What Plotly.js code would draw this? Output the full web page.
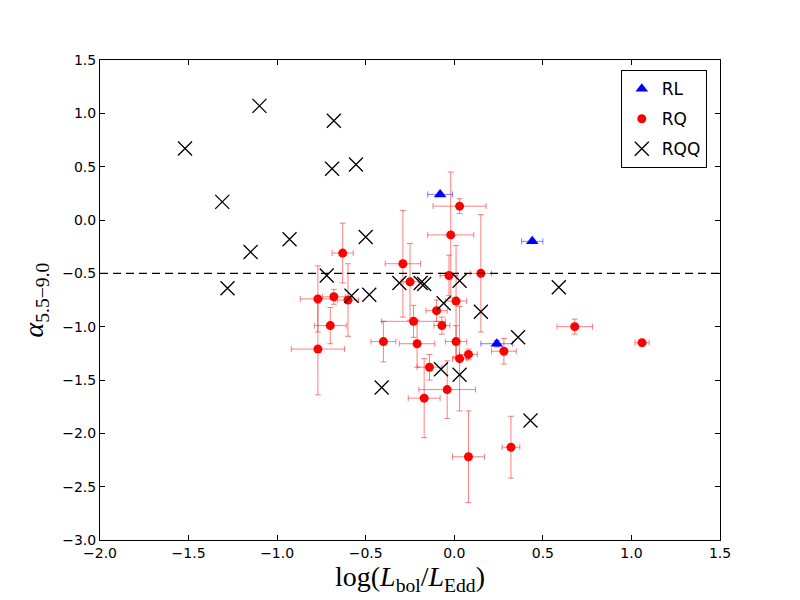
<!DOCTYPE html>
<html>
<head>
<meta charset="utf-8">
<script src="https://cdn.plot.ly/plotly-3.0.1.min.js"></script>
<style>
  body { margin: 0; background: #fff; }
  #myDiv { width: 800px; height: 600px; }
</style>
</head>
<body>
<div id="myDiv"></div>
<script>
// RL sources
var rlX = [-0.08, 0.44, 0.24];
var rlY = [0.24, -0.20, -1.16];
var rlXerr = [0.07, 0.06, 0.09];
var rlYerr = [0.02, 0.02, 0.03];

// RQ sources
var rqX = [0.03, -0.02, -0.29, -0.63, -0.25, -0.03, 0.15, 0.01, -0.10, -0.77,
           -0.68, -0.60, -0.70, -0.77, -0.23, -0.07, -0.40, -0.21, 0.01, 0.03,
           0.08, -0.14, -0.17, -0.04, 0.08, 0.32, 0.28, 0.68, 1.06];
var rqY = [0.13, -0.14, -0.41, -0.31, -0.58, -0.52, -0.50, -0.76, -0.85, -0.74,
           -0.72, -0.75, -0.99, -1.21, -0.95, -0.99, -1.14, -1.16, -1.14, -1.30,
           -1.26, -1.38, -1.67, -1.59, -2.22, -2.13, -1.23, -1.00, -1.15];
var rqXerr = [0.15, 0.13, 0.10, 0.06, 0.05, 0.05, 0.06, 0.06, 0.06, 0.10,
              0.065, 0.06, 0.09, 0.15, 0.18, 0.045, 0.07, 0.10, 0.06, 0.04,
              0.05, 0.07, 0.09, 0.16, 0.09, 0.05, 0.07, 0.10, 0.04];
var rqYerr = [0.07, 0.59, 0.50, 0.28, 0.36, 0.19, 0.55, 0.52, 0.10, 0.31,
              0.07, 0.34, 0.17, 0.43, 0.15, 0.08, 0.19, 0.22, 0.15, 0.49,
              0.05, 0.12, 0.37, 0.27, 0.43, 0.29, 0.12, 0.07, 0.03];

// RQQ sources (no errors)
var rqqX = [-1.52, -1.10, -0.68, -0.69, -0.555, -1.31, -0.93, -1.15, -1.28, -0.50,
            -0.72, -0.58, -0.48, -0.31, -0.19, -0.17, -0.06, 0.03, 0.15, 0.36,
            0.59, 0.43, -0.41, -0.075, 0.03];
var rqqY = [0.67, 1.07, 0.93, 0.48, 0.52, 0.17, -0.18, -0.30, -0.64, -0.16,
            -0.52, -0.71, -0.70, -0.59, -0.59, -0.60, -0.78, -0.57, -0.86, -1.10,
            -0.63, -1.88, -1.57, -1.40, -1.45];

var threshold = -0.5;
var xTicks = [-2.0, -1.5, -1.0, -0.5, 0.0, 0.5, 1.0, 1.5];
var yTicks = [-3.0, -2.5, -2.0, -1.5, -1.0, -0.5, 0.0, 0.5, 1.0, 1.5];

function drawScatter(){
    var rl = {
        x: rlX, y: rlY, name: 'RL', legendgroup: 'a',
        mode: 'markers', type: 'scatter',
        marker: {symbol: 'triangle-up', size: 11, color: 'blue'},
        error_x: {type: 'data', array: rlXerr, color: 'rgba(0,0,255,0.5)', thickness: 1, width: 3},
        error_y: {type: 'data', array: rlYerr, color: 'rgba(0,0,255,0.5)', thickness: 1, width: 3}
    };

    var rq = {
        x: rqX, y: rqY, name: 'RQ', legendgroup: 'b',
        mode: 'markers', type: 'scatter',
        marker: {symbol: 'circle', size: 9, color: 'red'},
        error_x: {type: 'data', array: rqXerr, color: 'rgba(255,0,0,0.5)', thickness: 1, width: 3},
        error_y: {type: 'data', array: rqYerr, color: 'rgba(255,0,0,0.5)', thickness: 1, width: 3}
    };

    var rqq = {
        x: rqqX, y: rqqY, name: 'RQQ', legendgroup: 'c',
        mode: 'markers', type: 'scatter',
        marker: {symbol: 'x-thin-open', size: 14, color: 'black', line: {color: 'black', width: 1.3}}
    };

    var axisCommon = {
        showgrid: false, zeroline: false,
        showline: true, linecolor: 'black', linewidth: 1, mirror: 'allticks',
        ticks: 'inside', ticklen: 5, tickcolor: 'black', tickwidth: 1,
        tickformat: '.1f',
        tickfont: {family: 'DejaVu Sans', size: 14, color: 'black'}
    };

    var layout = {
        width: 800, height: 600,
        margin: {l: 100, r: 80, t: 60, b: 60},
        paper_bgcolor: 'white', plot_bgcolor: 'white',
        showlegend: true,
        legend: {
            x: 0.84, y: 0.979, xanchor: 'left', yanchor: 'top',
            bgcolor: 'white', bordercolor: 'black', borderwidth: 1,
            font: {family: 'DejaVu Sans', size: 17, color: 'black'},
            tracegroupgap: 5
        },
        xaxis: Object.assign({}, axisCommon, {
            range: [-2, 1.5], tickvals: xTicks,
            title: {text: 'log(<i>L</i><sub>bol</sub>/<i>L</i><sub>Edd</sub>)',
                    font: {family: 'Liberation Serif', size: 28, color: 'black'}, standoff: 6}
        }),
        yaxis: Object.assign({}, axisCommon, {
            range: [-3, 1.5], tickvals: yTicks,
            title: {text: '<i>α</i><sub>5.5−9.0</sub>',
                    font: {family: 'Liberation Serif', size: 28, color: 'black'}, standoff: 10}
        }),
        shapes: [{
            type: 'line', xref: 'paper', yref: 'y',
            x0: 0, x1: 1, y0: threshold, y1: threshold,
            line: {color: 'black', width: 1.2, dash: '8px,5px'}
        }]
    };

    Plotly.newPlot('myDiv', [rl, rq, rqq], layout, {staticPlot: true});
}

drawScatter();
</script>
</body>
</html>
